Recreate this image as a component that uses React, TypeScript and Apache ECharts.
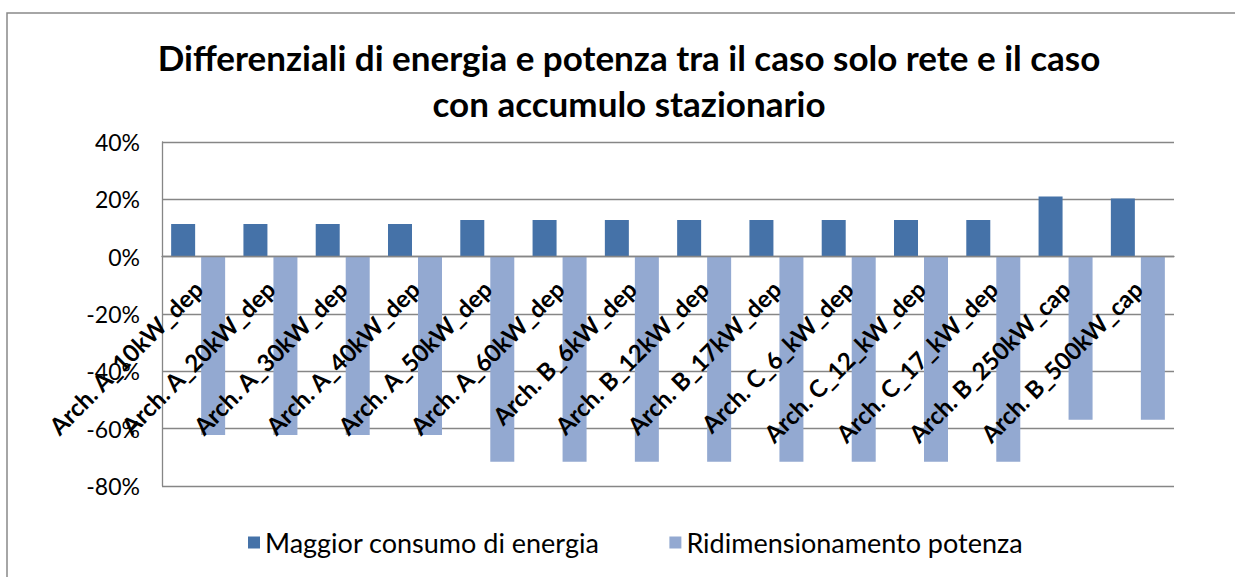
import React, { useEffect, useRef } from "react";
import * as echarts from "echarts";

const categories = [
  "Arch. A_10kW_dep",
  "Arch. A_20kW_dep",
  "Arch. A_30kW_dep",
  "Arch. A_40kW_dep",
  "Arch. A_50kW_dep",
  "Arch. A_60kW_dep",
  "Arch. B_6kW_dep",
  "Arch. B_12kW_dep",
  "Arch. B_17kW_dep",
  "Arch. C_6_kW_dep",
  "Arch. C_12_kW_dep",
  "Arch. C_17_kW_dep",
  "Arch. B_250kW_cap",
  "Arch. B_500kW_cap",
];

const energia = [11.4, 11.4, 11.4, 11.4, 12.8, 12.8, 12.8, 12.8, 12.8, 12.8, 12.8, 12.8, 21.0, 20.3];
const potenza = [-62.2, -62.2, -62.2, -62.2, -71.5, -71.5, -71.5, -71.5, -71.5, -71.5, -71.5, -71.5, -56.9, -56.9];

const seriesNames = ["Maggior consumo di energia", "Ridimensionamento potenza"];
const titleText = "Differenziali di energia e potenza tra il caso solo rete e il caso\ncon accumulo stazionario";

export default function App() {
  const ref = useRef<HTMLDivElement>(null);
  useEffect(() => {
    if (!ref.current) return;
    const chart = echarts.init(ref.current, null, { renderer: "svg" });
    const font = "Lato, 'Open Sans', sans-serif";
    chart.setOption({
      animation: false,
      backgroundColor: "#ffffff",
      textStyle: { fontFamily: font },
      title: {
        text: titleText,
        left: 624,
        top: 29,
        textAlign: "center",
        textStyle: { fontFamily: font, fontSize: 35, fontWeight: "bold", color: "#000", lineHeight: 46 },
      },
      graphic: [
        {
          type: "rect",
          shape: { x: 7, y: 13, width: 1400, height: 800 },
          style: { fill: "none", stroke: "#898989", lineWidth: 1.5 },
          silent: true,
        },
      ],
      legend: {
        bottom: 16,
        left: 243,
        itemWidth: 12,
        itemHeight: 12,
        itemGap: 70,
        icon: "rect",
        textStyle: { fontFamily: font, fontSize: 27, color: "#000" },
        data: seriesNames,
      },
      grid: { left: 162, right: 61, top: 142, bottom: 91, containLabel: false, outerBoundsMode: "none" },
      xAxis: {
        type: "category",
        data: categories,
        z: 10,
        offset: -229.3,
        axisLine: { onZero: false, lineStyle: { color: "#868686", width: 1.3 } },
        axisTick: { show: false },
        axisLabel: {
          rotate: 45,
          interval: 0,
          margin: 28,
          fontFamily: font,
          fontSize: 24,
          fontWeight: "bold",
          color: "#000",
        },
      },
      yAxis: {
        type: "value",
        min: -80,
        max: 40,
        interval: 20,
        axisLine: { show: true, lineStyle: { color: "#868686", width: 1.3 } },
        axisTick: { show: false },
        splitLine: { lineStyle: { color: "#868686", width: 1.3 } },
        axisLabel: {
          formatter: (v: number) => v + "%",
          fontFamily: font,
          fontSize: 23,
          color: "#000",
          margin: 22,
        },
      },
      series: [
        {
          name: seriesNames[0],
          type: "bar",
          data: energia,
          barWidth: 24,
          barGap: "25%",
          itemStyle: { color: "#4572A8" },
        },
        {
          name: seriesNames[1],
          type: "bar",
          data: potenza,
          barWidth: 24,
          itemStyle: { color: "#93A9D1" },
        },
      ],
    });
    return () => chart.dispose();
  }, []);
  return <div ref={ref} style={{ position: "fixed", left: 0, top: 0, width: 1235, height: 577 }} />;
}
